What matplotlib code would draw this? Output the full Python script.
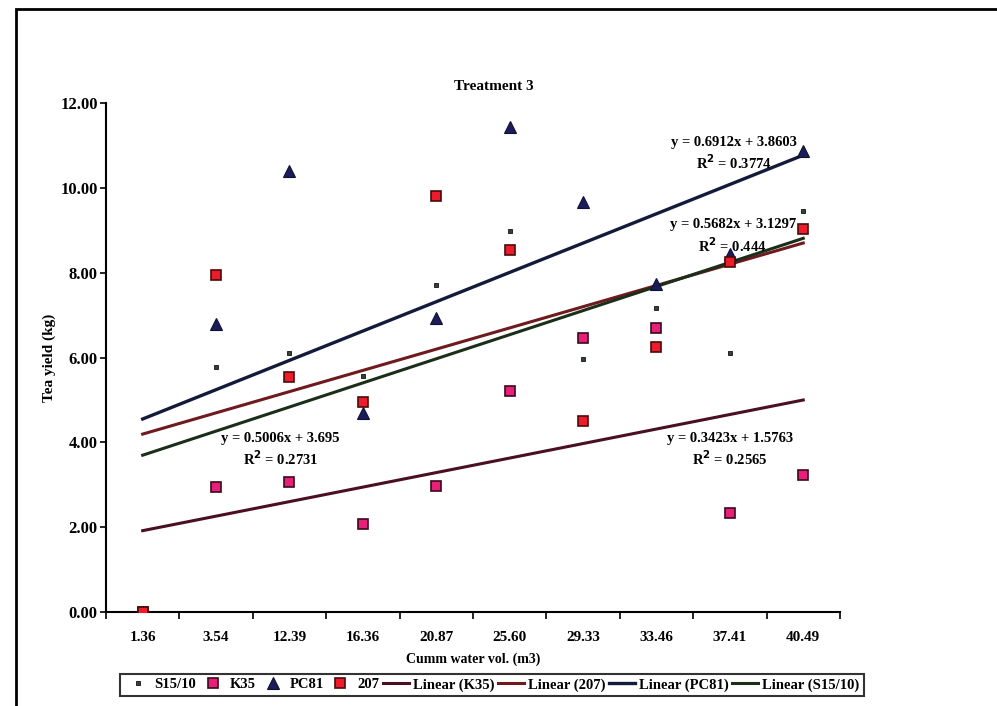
import matplotlib
matplotlib.use("Agg")
import matplotlib.pyplot as plt
import numpy as np
from matplotlib.patches import Rectangle

plt.rcParams['font.family'] = ['Liberation Serif', 'DejaVu Serif']
plt.rcParams['font.weight'] = 'bold'

categories = ["1.36", "3.54", "12.39", "16.36", "20.87", "25.60", "29.33", "33.46", "37.41", "40.49"]
s15_10 = [0.0, 5.78, 6.10, 5.57, 7.72, 8.98, 5.96, 7.18, 6.11, 9.46]
k35 = [0.0, 2.95, 3.07, 2.08, 2.97, 5.21, 6.45, 6.70, 2.33, 3.23]
pc81 = [0.0, 6.79, 10.39, 4.69, 6.93, 11.43, 9.66, 7.74, 8.43, 10.88]
v207 = [0.0, 7.95, 5.55, 4.95, 9.82, 8.53, 4.50, 6.24, 8.25, 9.03]

# trendline equations as printed on the chart (slope, intercept, R2)
fit_k35 = (0.3423, 1.5763, "0.2565")
fit_207 = (0.5006, 3.695, "0.2731")
fit_pc81 = (0.6912, 3.8603, "0.3774")
fit_s15 = (0.5682, 3.1297, "0.444")

y_ticks = [0, 2, 4, 6, 8, 10, 12]

fig = plt.figure(figsize=(9.97, 7.06), dpi=100)
ax = fig.add_axes([0.1063, 0.1331, 0.7362, 0.7209])

x = np.arange(1, len(categories) + 1)

l1, = ax.plot(x, s15_10, linestyle='none', marker='s', markersize=3.5,
              markerfacecolor='#334433', markeredgecolor='#111111', markeredgewidth=0.6, zorder=5)
l2, = ax.plot(x, k35, linestyle='none', marker='s', markersize=7.5,
              markerfacecolor='#e8207a', markeredgecolor='#3a0a1a', markeredgewidth=1.2, zorder=5)
l3, = ax.plot(x, pc81, linestyle='none', marker='^', markersize=8,
              markerfacecolor='#1c1c5a', markeredgecolor='#101030', markeredgewidth=0.8, zorder=5)
l4, = ax.plot(x, v207, linestyle='none', marker='s', markersize=7.5,
              markerfacecolor='#ec1c2c', markeredgecolor='#4a0a0a', markeredgewidth=1.2, zorder=6)

xf = np.array([1, len(categories)])
t1, = ax.plot(xf, fit_k35[0] * xf + fit_k35[1], color='#4a0f22', lw=2.2, zorder=3)
t2, = ax.plot(xf, fit_207[0] * xf + fit_207[1], color='#6e1a1e', lw=2.2, zorder=3)
t3, = ax.plot(xf, fit_pc81[0] * xf + fit_pc81[1], color='#141a3a', lw=2.4, zorder=3)
t4, = ax.plot(xf, fit_s15[0] * xf + fit_s15[1], color='#1a2e1a', lw=2.2, zorder=3)

ax.set_xlim(0.5, len(categories) + 0.5)
ax.set_ylim(0, 12)
ax.set_xticks(x)
ax.set_xticklabels(categories, fontsize=11, fontweight='bold')
ax.set_xticks(np.arange(0.5, len(categories) + 1.0, 1.0), minor=True)
ax.tick_params(axis='x', which='major', length=0, pad=14)
ax.tick_params(axis='x', which='minor', length=5, direction='out', width=1.2)
ax.set_yticks(y_ticks)
ax.set_yticklabels([f"{v:.2f}" for v in y_ticks], fontsize=12, fontweight='bold')
ax.tick_params(axis='y', length=4, direction='out', width=1.2, pad=2)

for s in ['top', 'right']:
    ax.spines[s].set_visible(False)
for s in ['left', 'bottom']:
    ax.spines[s].set_linewidth(1.5)

ax.text(5.78, 12.4, "Treatment 3", ha='center', va='center', fontsize=11, fontweight='bold')
ax.set_ylabel("Tea yield (kg)", fontsize=11, fontweight='bold', labelpad=3)
ax.set_xlabel("Cumm water vol. (m3)", fontsize=10, fontweight='bold', labelpad=6)

def put(fit, xd, yd):
    a = f"y = {fit[0]}x + {fit[1]}"
    b = f"R$^2$ = {fit[2]}"
    ax.text(xd, yd, a, ha='center', va='center', fontsize=10.5, fontweight='bold', zorder=7)
    ax.text(xd, yd - 0.49, b, ha='center', va='center', fontsize=10.5, fontweight='bold', zorder=7)

put(fit_pc81, 9.06, 11.08)
put(fit_s15, 9.04, 9.13)
put(fit_207, 2.88, 4.1)
put(fit_k35, 9.0, 4.1)

leg = fig.legend([l1, l2, l3, l4, t1, t2, t3, t4],
                 ["S15/10", "K35", "PC81", "207", "Linear (K35)", "Linear (207)",
                  "Linear (PC81)", "Linear (S15/10)"],
                 loc='center', bbox_to_anchor=(0.4935, 0.0300), ncol=8, frameon=True,
                 fancybox=False, edgecolor='black', fontsize=10.5, handlelength=1.8,
                 handletextpad=0.25, columnspacing=0.25, borderpad=0.3)
leg.get_frame().set_linewidth(1.5)
for t in leg.get_texts():
    t.set_fontweight('bold')

fig.patches.append(Rectangle((0.016, -0.1), 1.2, 1.087, transform=fig.transFigure,
                             fill=False, edgecolor='black', linewidth=2.0))

fig.savefig("out.png", dpi=100)
